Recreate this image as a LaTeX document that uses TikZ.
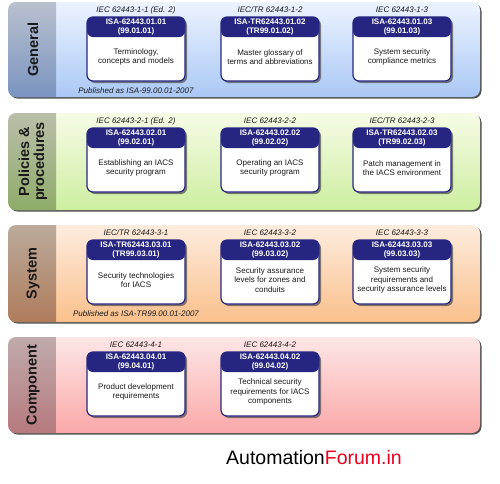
\documentclass[tikz,border=0pt]{standalone}
\usepackage{fontspec}
\setmainfont{Liberation Sans}
\usetikzlibrary{shadows}
\definecolor{navy}{RGB}{38,38,130}
\definecolor{txt}{RGB}{25,25,25}
\definecolor{afred}{RGB}{232,0,30}
% band colours
\definecolor{gMt}{RGB}{236,243,255}\definecolor{gMb}{RGB}{170,200,245}
\definecolor{gLt}{RGB}{185,192,206}\definecolor{gLb}{RGB}{122,148,192}
\definecolor{pMt}{RGB}{246,251,230}\definecolor{pMb}{RGB}{205,238,160}
\definecolor{pLt}{RGB}{186,190,170}\definecolor{pLb}{RGB}{143,172,106}
\definecolor{sMt}{RGB}{253,236,222}\definecolor{sMb}{RGB}{250,192,140}
\definecolor{sLt}{RGB}{186,170,155}\definecolor{sLb}{RGB}{176,124,92}
\definecolor{cMt}{RGB}{253,230,230}\definecolor{cMb}{RGB}{250,168,168}
\definecolor{cLt}{RGB}{192,170,172}\definecolor{cLb}{RGB}{182,122,126}
\tikzset{
  bandbox/.style={rectangle, rounded corners=8pt, minimum width=472pt, inner sep=0pt,
    drop shadow={shadow xshift=1.5pt, shadow yshift=-1.5pt, fill=black!75, opacity=0.9}},
  bandlabel/.style={rotate=90, align=center, text=txt,
    font=\bfseries\fontsize{14.5}{15}\selectfont},
  isabox/.style={rectangle, rounded corners=6pt, minimum width=98pt, minimum height=64pt,
    inner sep=0pt, draw=navy, line width=1.2pt, fill=white,
    drop shadow={shadow xshift=2pt, shadow yshift=-2pt, fill=black!70, opacity=0.7},
    path picture={\fill[navy] (path picture bounding box.north west) rectangle
      ([yshift=-20pt]path picture bounding box.north east);}},
  titletext/.style={font=\itshape\fontsize{8}{9}\selectfont, text=txt, inner sep=0pt},
  headtext/.style={font=\bfseries\fontsize{8}{9}\selectfont, text=white, align=center, inner sep=0pt},
  bodytext/.style={font=\fontsize{8}{9.6}\selectfont, text=txt, align=center, inner sep=0pt},
  pubtext/.style={font=\itshape\fontsize{8}{9}\selectfont, text=txt, inner sep=0pt}
}
% #1 name, #2 top, #3 bottom, #4 prefix for colours, #5 label
\newcommand\drawband[5]{%
  \node[bandbox, top color=#4Mt, bottom color=#4Mb, minimum height=#3pt-#2pt]
    (#1) at (244,{(#2+#3)/2}) {};
  \shade[top color=#4Lt, bottom color=#4Lb, rounded corners=8pt]
    (56,#2) -- (8,#2) -- (8,#3) [sharp corners] -- (56,#3) -- cycle;
  \node[bandlabel] (#1lab) at (33,{(#2+#3)/2}) {#5};
}
% #1 name, #2 cx, #3 top, #4 title, #5 header, #6 body
\newcommand\isab[6]{%
  \node[isabox] (#1) at (#2,#3+32) {};
  \node[titletext] (#1t) at (#2,#3-7) {#4};
  \node[headtext] (#1h) at (#2,#3+10) {#5};
  \node[bodytext] (#1b) at (#2,#3+40) {#6};
}
\begin{document}
\begin{tikzpicture}[x=1pt,y=-1pt]
\useasboundingbox[fill=white] (0,0) rectangle (500,483);

\drawband{general}{2}{97}{g}{General}
\drawband{policies}{113}{210}{p}{Policies \&\\procedures}
\drawband{system}{225}{322}{s}{System}
\drawband{component}{337}{433}{c}{Component}

\isab{g1}{136}{17}{IEC 62443-1-1 (Ed. 2)}{ISA-62443.01.01\\(99.01.01)}{Terminology,\\concepts and models}
\isab{g2}{270}{17}{IEC/TR 62443-1-2}{ISA-TR62443.01.02\\(TR99.01.02)}{Master glossary of\\terms and abbreviations}
\isab{g3}{402}{17}{IEC 62443-1-3}{ISA-62443.01.03\\(99.01.03)}{System security\\compliance metrics}
\node[pubtext] (pub1) at (136,91) {Published as ISA-99.00.01-2007};

\isab{p1}{136}{128}{IEC 62443-2-1 (Ed. 2)}{ISA-62443.02.01\\(99.02.01)}{Establishing an IACS\\security program}
\isab{p2}{270}{128}{IEC 62443-2-2}{ISA-62443.02.02\\(99.02.02)}{Operating an IACS\\security program}
\isab{p3}{402}{128}{IEC/TR 62443-2-3}{ISA-TR62443.02.03\\(TR99.02.03)}{Patch management in\\the IACS environment}

\isab{s1}{136}{240}{IEC/TR 62443-3-1}{ISA-TR62443.03.01\\(TR99.03.01)}{Security technologies\\for IACS}
\isab{s2}{270}{240}{IEC 62443-3-2}{ISA-62443.03.02\\(99.03.02)}{Security assurance\\levels for zones and\\conduits}
\isab{s3}{402}{240}{IEC 62443-3-3}{ISA-62443.03.03\\(99.03.03)}{System security\\requirements and\\security assurance levels}
\node[pubtext] (pub2) at (136,314) {Published as ISA-TR99.00.01-2007};

\isab{c1}{136}{352}{IEC 62443-4-1}{ISA-62443.04.01\\(99.04.01)}{Product development\\requirements}
\isab{c2}{270}{352}{IEC 62443-4-2}{ISA-62443.04.02\\(99.04.02)}{Technical security\\requirements for IACS\\components}

\node[anchor=base west, inner sep=0pt, font=\fontsize{19.5}{20}\selectfont] (af) at (226,464)
  {Automation\textcolor{afred}{Forum.in}};
\end{tikzpicture}
\end{document}
